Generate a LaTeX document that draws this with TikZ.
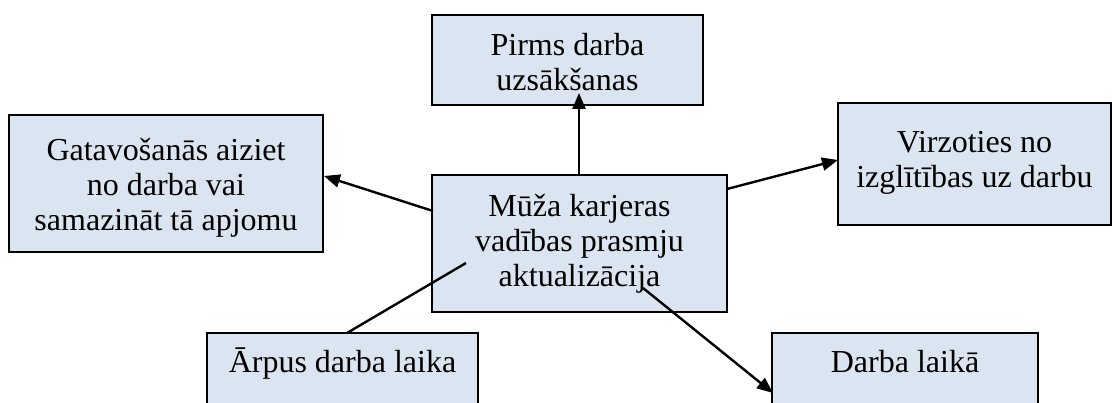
\documentclass[tikz,border=0pt]{standalone}
\usepackage{fontspec}
\setmainfont{Liberation Serif}
\usetikzlibrary{arrows.meta}
\definecolor{boxfill}{RGB}{219,229,241}
\tikzset{
  box/.style={draw=black, fill=boxfill, line width=1.6pt, inner sep=0pt},
  label text/.style={align=center, inner sep=0pt, anchor=base,
    font=\fontsize{32}{35}\selectfont},
  link/.style={line width=2.4pt},
  arrowlink/.style={link, -{Triangle[length=16pt,width=13pt]}}
}
\begin{document}
\begin{tikzpicture}[x=1pt,y=-1pt]
  \useasboundingbox (0,0) rectangle (1112,403);
  \clip (0,0) rectangle (1112,403);
  \fill[white] (0,0) rectangle (1112,403);

  % boxes
  \node[box, minimum width=271pt, minimum height=90pt] (pirms) at (567.5,60) {};
  \node[box, minimum width=314pt, minimum height=137pt] (gatav) at (166,183.5) {};
  \node[box, minimum width=273pt, minimum height=122pt] (virz) at (974.5,164) {};
  \node[box, minimum width=295pt, minimum height=137pt] (muza) at (579.5,243.5) {};
  \node[box, minimum width=271pt, minimum height=100pt] (arpus) at (342.5,383) {};
  \node[box, minimum width=266pt, minimum height=100pt] (darba) at (905,383) {};

  % texts (anchored at the baseline of the last line)
  \node[label text] (pirmsT) at (567.5,91) {Pirms darba\\uzsākšanas};
  \node[label text] (gatavT) at (166,231) {Gatavošanās aiziet\\no darba vai\\samazināt tā apjomu};
  \node[label text] (virzT) at (974.5,188) {Virzoties no\\izglītības uz darbu};
  \node[label text] (muzaT) at (579.5,287) {Mūža karjeras\\vadības prasmju\\aktualizācija};
  \node[label text] (arpusT) at (342.5,373) {Ārpus darba laika};
  \node[label text] (darbaT) at (905,373) {Darba laikā};

  % connector end points
  \coordinate (pirmsTip) at (579,93);
  \coordinate (muzaTop) at (579,175);
  \coordinate (muzaW) at (433,211);
  \coordinate (gatavE) at (324,176);
  \coordinate (muzaE) at (727,189);
  \coordinate (virzW) at (838,160);
  \coordinate (arpusTop) at (347,333);
  \coordinate (muzaIn) at (466,263);
  \coordinate (muzaOut) at (643,288);
  \coordinate (darbaW) at (773,393);

  % connectors, drawn over boxes and texts
  \draw[arrowlink] (muzaTop) -- (pirmsTip);
  \draw[arrowlink] (muzaW) -- (gatavE);
  \draw[arrowlink] (muzaE) -- (virzW);
  \draw[link] (arpusTop) -- (muzaIn);
  \draw[arrowlink] (muzaOut) -- (darbaW);
\end{tikzpicture}
\end{document}
